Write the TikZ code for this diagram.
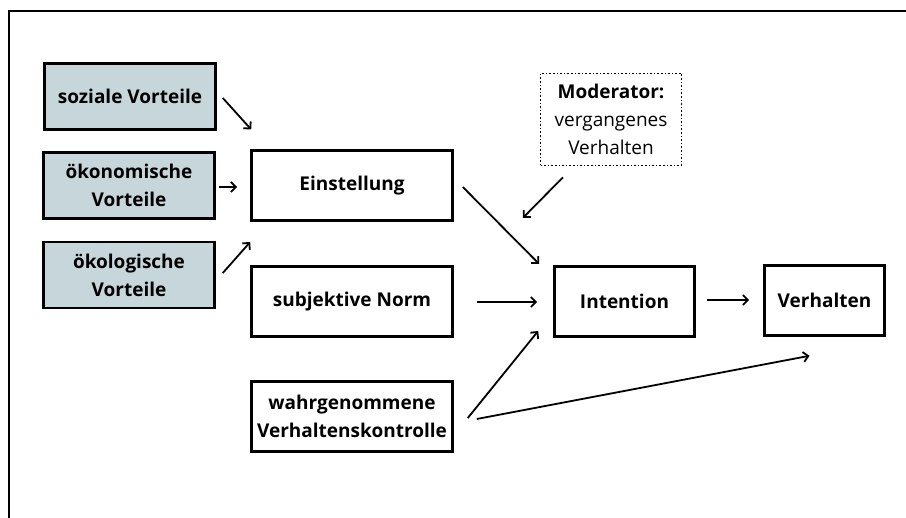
\documentclass[tikz,border=0pt]{standalone}
\usepackage{fontspec}
\setmainfont{Open Sans}
\usetikzlibrary{arrows.meta,calc}
\definecolor{boxblue}{RGB}{198,214,218}
\begin{document}
\begin{tikzpicture}[x=1pt,y=-1pt,
  box/.style={draw=black,line width=2.6pt,align=center,inner sep=1pt,font=\fontsize{19}{28}\selectfont\bfseries},
  bluebox/.style={box,fill=boxblue,minimum width=171pt,minimum height=66pt},
  midbox/.style={box,minimum width=201pt,minimum height=70pt},
  modbox/.style={draw=black,line width=1.6pt,dotted,align=center,inner sep=1pt,minimum width=141pt,minimum height=92pt,font=\fontsize{19}{28}\selectfont},
  arr/.style={line width=1.8pt,-{Straight Barb[length=5pt,width=10pt,line width=1.8pt]}}]
\useasboundingbox (0,0) rectangle (906,518);
\draw[line width=1.8pt] (9,530) -- (9,11) -- (920,11);
\node[bluebox] (soz) at (130,96.5) {soziale Vorteile};
\node[bluebox] (oek) at (129,185.5) {ökonomische\\Vorteile};
\node[bluebox] (oko) at (129,275) {ökologische\\Vorteile};
\node[midbox] (ein) at (352,185.5) {Einstellung};
\node[midbox] (norm) at (352,301.5) {subjektive Norm};
\node[midbox] (wahr) at (352,416.5) {wahrgenommene\\Verhaltenskontrolle};
\node[box,minimum width=140pt,minimum height=70pt] (int) at (624.5,301.5) {Intention};
\node[box,minimum width=120pt,minimum height=70pt] (ver) at (824.5,300.5) {Verhalten};
\node[modbox] (mod) at (611,119.5) {\textbf{Moderator:}\\vergangenes\\Verhalten};
\coordinate (modtip) at ($(ein.east)+(69,32.5)$);
\draw[arr] ($(soz.east)+(6,1.5)$) -- ($(ein.west)+(1,-56)$);
\draw[arr] ($(oek.east)+(3,1.5)$) -- ($(ein.west)+(-13,1.5)$);
\draw[arr] ($(oko.east)+(7,-2)$) -- ($(ein.west)+(0,56.5)$);
\draw[arr] ($(ein.east)+(9,1.5)$) -- ($(int.west)+(-14,-37.5)$);
\draw[arr] ($(mod.south)+(-48,11)$) -- (modtip);
\draw[arr] ($(norm.east)+(23,0.5)$) -- ($(int.west)+(-16,0.5)$);
\draw[arr] ($(wahr.east)+(14,1.5)$) -- ($(int.west)+(-15,29.5)$);
\draw[arr] ($(int.east)+(11,-1.5)$) -- ($(ver.west)+(-14,-0.5)$);
\draw[arr] ($(wahr.east)+(23,2.5)$) -- ($(ver.south)+(-15,19)$);
\end{tikzpicture}
\end{document}
